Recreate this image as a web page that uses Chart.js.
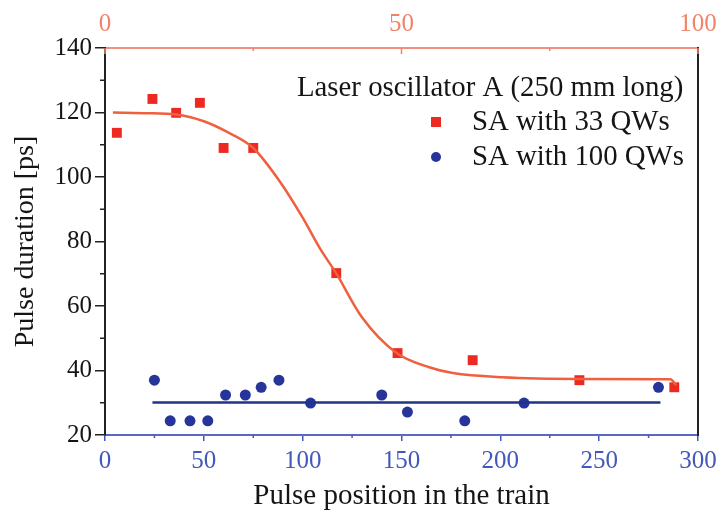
<!DOCTYPE html>
<html>
<head>
<meta charset="utf-8">
<script src="https://cdn.jsdelivr.net/npm/chart.js@4.4.1/dist/chart.umd.min.js"></script>
<style>
  html, body { margin: 0; padding: 0; background: #fff; }
  #wrap { width: 722px; height: 514px; }
</style>
</head>
<body>
<div id="wrap"><canvas id="chart"></canvas></div>
<script>
// SA with 33 QWs (measured)
const qw33X = [6, 24, 36, 48, 60, 75, 117, 148, 186, 240, 288];
const qw33Y = [113.7, 124.2, 119.9, 123, 109, 109, 70.2, 45.4, 43.2, 37, 34.8];

// SA with 100 QWs (measured)
const qw100X = [25, 33, 43, 52, 61, 71, 79, 88, 104, 140, 153, 182, 212, 280];
const qw100Y = [37, 24.4, 24.4, 24.4, 32.4, 32.4, 34.8, 37, 29.9, 32.4, 27.1, 24.4, 29.9, 34.8];

// fit curve for 33 QWs
const fit33X = [4, 20, 36, 50, 63, 75, 88, 100, 108.5, 117, 130, 147.5, 164, 176, 201, 240, 286, 289];
const fit33Y = [120, 119.8, 119.4, 117.3, 113.6, 109, 99, 87.4, 78.1, 70.1, 56.5, 45.4, 41, 39.2, 37.9, 37.4, 37.3, 35.5];

// flat line for 100 QWs
const fit100X = [24, 281];
const fit100Y = [30.1, 30.1];

const bottomTicks = [0, 50, 100, 150, 200, 250, 300];
const topTicks = [0, 50, 100];
const yTicks = [20, 40, 60, 80, 100, 120, 140];

const legendTitle = 'Laser oscillator A (250 mm long)';
const legendLabels = ['SA with 33 QWs', 'SA with 100 QWs'];

const RED = '#ec2a22';
const RED_LINE = '#f0603e';
const BLUE = '#27349a';
const BLUE_LINE = '#1e3486';
const BLUE_TICK = '#4358bb';
const RED_TICK = '#f08468';
const INK = '#151515';
const FONT = "'Liberation Serif', 'Times New Roman', serif";

const pts = (xs, ys) => xs.map((x, i) => ({ x, y: ys[i] }));

// keep the plot area where the reference has it
const fixX = (h) => (s) => {
  s.height = h;
  s.paddingLeft = 0;
  s.paddingRight = 0;
};

const minorTicks = {
  id: 'minorTicks',
  afterDraw(chart) {
    const { ctx, chartArea: a, scales } = chart;
    ctx.save();
    ctx.lineWidth = 1.5;
    ctx.strokeStyle = '#222';
    for (let v = 30; v < 140; v += 20) {
      const y = scales.y.getPixelForValue(v);
      ctx.beginPath(); ctx.moveTo(a.left - 5, y); ctx.lineTo(a.left, y); ctx.stroke();
    }
    ctx.strokeStyle = BLUE_TICK;
    for (let v = 25; v < 300; v += 50) {
      const x = scales.x.getPixelForValue(v);
      ctx.beginPath(); ctx.moveTo(x, a.bottom); ctx.lineTo(x, a.bottom + 3); ctx.stroke();
    }
    // top axis ticks point inward
    ctx.strokeStyle = RED_TICK;
    for (let v = 0; v <= 100; v += 25) {
      const x = scales.x2.getPixelForValue(v);
      const len = v % 50 === 0 ? 6 : 3;
      ctx.beginPath(); ctx.moveTo(x, a.top); ctx.lineTo(x, a.top + len); ctx.stroke();
    }
    ctx.restore();
  }
};

const insideLegend = {
  id: 'insideLegend',
  afterDraw(chart) {
    const { ctx } = chart;
    ctx.save();
    ctx.font = `28.8px ${FONT}`;
    ctx.fillStyle = INK;
    ctx.textBaseline = 'middle';
    ctx.textAlign = 'left';
    ctx.fillText(legendTitle, 297, 88);
    ctx.fillText(legendLabels[0], 472, 122);
    ctx.fillText(legendLabels[1], 472, 157);
    ctx.fillStyle = RED;
    ctx.fillRect(431, 117, 10, 10);
    ctx.fillStyle = BLUE;
    ctx.beginPath(); ctx.arc(436, 157, 5, 0, Math.PI * 2); ctx.fill();
    ctx.restore();
  }
};

new Chart(document.getElementById('chart'), {
  type: 'scatter',
  data: {
    datasets: [
      {
        label: 'fit 33',
        data: pts(fit33X, fit33Y),
        showLine: true,
        borderColor: RED_LINE,
        borderWidth: 2.5,
        pointRadius: 0,
        cubicInterpolationMode: 'monotone',
        fill: false
      },
      {
        label: 'fit 100',
        data: pts(fit100X, fit100Y),
        showLine: true,
        borderColor: BLUE_LINE,
        borderWidth: 2.5,
        pointRadius: 0,
        fill: false
      },
      {
        label: legendLabels[0],
        data: pts(qw33X, qw33Y),
        pointStyle: 'rect',
        pointRadius: 7,
        backgroundColor: RED,
        borderWidth: 0
      },
      {
        label: legendLabels[1],
        data: pts(qw100X, qw100Y),
        pointStyle: 'circle',
        pointRadius: 5.5,
        backgroundColor: BLUE,
        borderWidth: 0
      }
    ]
  },
  options: {
    responsive: true,
    maintainAspectRatio: false,
    animation: false,
    layout: { padding: { left: 0, right: 24, top: 0, bottom: 0 } },
    plugins: {
      legend: { display: false },
      tooltip: { enabled: false }
    },
    scales: {
      x: {
        type: 'linear',
        position: 'bottom',
        min: 0,
        max: 300,
        afterBuildTicks: (s) => { s.ticks = bottomTicks.map(v => ({ value: v })); },
        afterFit: fixX(79),
        ticks: { color: BLUE_TICK, font: { family: FONT, size: 25 }, padding: 5 },
        grid: { drawOnChartArea: false, color: BLUE_TICK, tickLength: 6, lineWidth: 1.5 },
        border: { color: '#5a66c8', width: 2 },
        title: {
          display: true,
          text: 'Pulse position in the train',
          color: INK,
          font: { family: FONT, size: 29 },
          padding: { top: 0, bottom: 0 }
        }
      },
      x2: {
        type: 'linear',
        position: 'top',
        min: 0,
        max: 100,
        afterBuildTicks: (s) => { s.ticks = topTicks.map(v => ({ value: v })); },
        afterFit: fixX(48),
        ticks: { color: RED_TICK, font: { family: FONT, size: 25 }, padding: 9 },
        grid: { drawOnChartArea: false, drawTicks: false, tickLength: 4 },
        border: { color: '#f29080', width: 2 }
      },
      y: {
        type: 'linear',
        min: 20,
        max: 140,
        afterBuildTicks: (s) => { s.ticks = yTicks.map(v => ({ value: v })); },
        afterFit: (s) => { s.width = 105; },
        ticks: { color: INK, font: { family: FONT, size: 25 }, padding: 3 },
        grid: { drawOnChartArea: false, color: '#222', tickLength: 10, lineWidth: 1.5 },
        border: { color: '#222', width: 2 },
        title: {
          display: true,
          text: 'Pulse duration [ps]',
          color: INK,
          font: { family: FONT, size: 28 },
          padding: { bottom: 0, top: 9 }
        }
      },
      yr: {
        type: 'linear',
        position: 'right',
        min: 20,
        max: 140,
        afterFit: (s) => { s.width = 0; },
        ticks: { display: false },
        grid: { drawOnChartArea: false, drawTicks: false },
        border: { color: '#222', width: 2 }
      }
    }
  },
  plugins: [minorTicks, insideLegend]
});
</script>
</body>
</html>
